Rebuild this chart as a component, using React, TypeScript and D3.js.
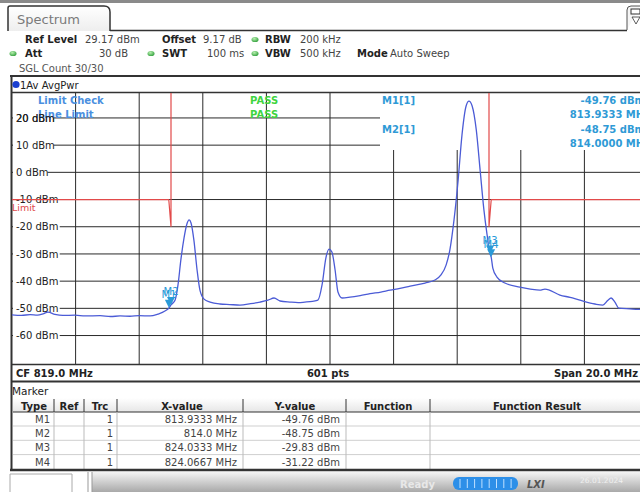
import React from "react";
import * as d3 from "d3";

// ---------- data ----------
const traceFreq = [809.0, 809.3, 809.57, 809.8, 810.0, 810.13, 810.35, 810.6, 810.98, 811.3, 811.77, 812.1, 812.4, 812.71, 813.0, 813.34, 813.59, 813.81, 813.94, 814.0, 814.13, 814.22, 814.31, 814.41, 814.5, 814.57, 814.63, 814.72, 814.82, 814.91, 815.04, 815.23, 815.54, 815.85, 816.17, 816.5, 816.8, 817.05, 817.24, 817.43, 817.74, 818.0, 818.21, 818.45, 818.62, 818.75, 818.87, 818.97, 819.06, 819.16, 819.25, 819.38, 819.63, 819.95, 820.26, 820.6, 820.89, 821.2, 821.52, 821.99, 822.3, 822.49, 822.65, 822.77, 822.9, 823.03, 823.15, 823.28, 823.37, 823.47, 823.6, 823.72, 823.84, 823.94, 824.03, 824.07, 824.12, 824.25, 824.5, 824.97, 825.3, 825.6, 825.76, 826.23, 826.55, 826.86, 827.33, 827.58, 827.74, 827.84, 827.96, 828.08, 828.43, 828.7, 829.0];
const traceLevel = [-52.4, -52.6, -52.3, -52.5, -51.9, -51.4, -52.2, -52.6, -52.5, -52.8, -52.7, -53.0, -52.8, -52.9, -52.7, -52.8, -52.1, -51.0, -49.8, -48.75, -46.9, -41.4, -32.2, -24.1, -19.0, -17.5, -18.6, -24.9, -35.9, -43.3, -46.6, -47.7, -48.4, -48.6, -48.8, -48.3, -47.7, -47.0, -46.2, -47.3, -47.7, -47.9, -47.7, -47.4, -47.0, -41.4, -31.5, -28.2, -29.3, -35.9, -44.0, -46.2, -45.9, -45.3, -44.6, -44.0, -43.3, -42.7, -41.8, -40.7, -39.6, -37.7, -34.1, -28.5, -17.5, -2.8, 13.7, 24.4, 26.2, 24.4, 15.6, 0.9, -13.8, -23.0, -29.83, -31.22, -35.2, -38.5, -40.7, -42.2, -42.9, -43.3, -42.9, -45.1, -46.0, -47.0, -48.4, -48.8, -47.0, -46.2, -47.7, -49.9, -50.2, -50.4, -50.2];

const yTicks = [20, 10, 0, -10, -20, -30, -40, -50, -60];
const xGridFreq = [811, 813, 815, 817, 819, 821, 823, 825, 827];

const limitFreq = [809, 813.93, 814.0, 814.0];
const limitLevel = [-10, -10, -20, 29.17];
const limitFreq2 = [824.0, 824.0, 824.07, 829];
const limitLevel2 = [29.17, -20, -10, -10];

const markerNames = ["M1", "M2", "M3", "M4"];
const markerFreq = [813.9333, 814.0, 824.0333, 824.0667];
const markerLevel = [-49.76, -48.75, -29.83, -31.22];
const markerXText = ["813.9333 MHz", "814.0 MHz", "824.0333 MHz", "824.0667 MHz"];
const markerYText = ["-49.76 dBm", "-48.75 dBm", "-29.83 dBm", "-31.22 dBm"];
const markerTrc = ["1", "1", "1", "1"];

const FONT = "DejaVu Sans, Verdana, sans-serif";

export default function App() {
  const x = d3.scaleLinear().domain([809, 829]).range([12, 648]);
  const y = d3.scaleLinear().domain([-70.83, 29.17]).range([365, 93]);

  const line = d3
    .line<number>()
    .x((_, i) => x(traceFreq[i]))
    .y((d) => y(d))
    .curve(d3.curveMonotoneX);
  const limLine = d3
    .line<number>()
    .x((_, i) => x(limitFreq[i]))
    .y((d) => y(d));
  const limLine2 = d3
    .line<number>()
    .x((_, i) => x(limitFreq2[i]))
    .y((d) => y(d));

  const colDiv = [54, 84, 117, 243, 346, 430];
  const rowY = [419, 433.3, 447.6, 462];

  return (
    <div style={{ position: "fixed", left: 0, top: 0, width: 640, height: 492, background: "#fff" }}>
      <svg width={640} height={492} style={{ display: "block", fontFamily: FONT }}>
        <defs>
          <linearGradient id="tabG" x1="0" y1="0" x2="0" y2="1">
            <stop offset="0" stopColor="#ffffff" />
            <stop offset="1" stopColor="#eeeeee" />
          </linearGradient>
          <linearGradient id="statusG" x1="0" y1="0" x2="0" y2="1">
            <stop offset="0" stopColor="#f4f4f4" />
            <stop offset="1" stopColor="#a9a9a9" />
          </linearGradient>
          <linearGradient id="hdrG" x1="0" y1="0" x2="0" y2="1">
            <stop offset="0" stopColor="#ffffff" />
            <stop offset="1" stopColor="#e6e6e6" />
          </linearGradient>
          <radialGradient id="greenDot" cx="0.4" cy="0.35" r="0.7">
            <stop offset="0" stopColor="#b8f0b0" />
            <stop offset="1" stopColor="#2f9e3a" />
          </radialGradient>
          <clipPath id="plotClip">
            <rect x={12} y={92} width={636} height={273} />
          </clipPath>
        </defs>

        {/* top strip */}
        <rect x={0} y={0} width={640} height={3} fill="#8a8a8a" />
        {/* tab */}
        <path d="M8,31 L8,8 Q8,6 10,6 L104,6 Q110,6 110,12 L110,31" fill="url(#tabG)" stroke="#333" strokeWidth={1.5} />
        <line x1={110} y1={30.5} x2={627} y2={30.5} stroke="#333" strokeWidth={1.5} />
        <path d="M627,30 L627,10 Q627,6 631,6 L640,6" fill="#f6f6f6" stroke="#555" strokeWidth={1} />
        <rect x={631} y={9} width={9} height={5} fill="#fff" stroke="#333" strokeWidth={1} />
        <path d="M632,17 L640,17 L636,24 Z" fill="none" stroke="#333" strokeWidth={0.8} />
        <text x={17} y={24} fontSize={13} fill="#7a7a7a">Spectrum</text>

        {/* info rows */}
        <g fontSize={10} fill="#222">
          <text x={25} y={43} fontWeight="bold">Ref Level</text>
          <text x={85} y={43} fill="#444">29.17 dBm</text>
          <text x={162} y={43} fontWeight="bold">Offset</text>
          <text x={203} y={43} fill="#444">9.17 dB</text>
          <ellipse cx={255} cy={39.5} rx={3.5} ry={2.6} fill="url(#greenDot)" />
          <text x={265} y={43} fontWeight="bold">RBW</text>
          <text x={300} y={43} fill="#444">200 kHz</text>

          <ellipse cx={13} cy={53.5} rx={3.5} ry={2.6} fill="url(#greenDot)" />
          <text x={25} y={57} fontWeight="bold">Att</text>
          <text x={128} y={57} fill="#444" textAnchor="end">30 dB</text>
          <ellipse cx={151} cy={53.5} rx={3.5} ry={2.6} fill="url(#greenDot)" />
          <text x={162} y={57} fontWeight="bold">SWT</text>
          <text x={207} y={57} fill="#444">100 ms</text>
          <ellipse cx={255} cy={53.5} rx={3.5} ry={2.6} fill="url(#greenDot)" />
          <text x={265} y={57} fontWeight="bold">VBW</text>
          <text x={300} y={57} fill="#444">500 kHz</text>
          <text x={357} y={57} fontWeight="bold">Mode</text>
          <text x={390} y={57} fill="#444">Auto Sweep</text>

          <text x={19} y={72} fill="#555">SGL Count 30/30</text>
        </g>

        {/* panel frame */}
        <line x1={10} y1={76} x2={640} y2={76} stroke="#333" strokeWidth={2} />
        <line x1={11.5} y1={76} x2={11.5} y2={471} stroke="#333" strokeWidth={2} />
        <circle cx={16} cy={84.5} r={3.6} fill="#1a3fd0" />
        <text x={20} y={88.5} fontSize={10} fill="#222">1Av AvgPwr</text>

        {/* grid */}
        {xGridFreq.map((f) => (
          <line key={"v" + f} x1={x(f)} y1={92} x2={x(f)} y2={364} stroke="#2a2a2a" strokeWidth={1} />
        ))}
        {yTicks.map((t) => (
          <line key={"h" + t} x1={12} y1={y(t)} x2={648} y2={y(t)} stroke="#2a2a2a" strokeWidth={1} />
        ))}
        {/* marker info box */}
        <rect x={380} y={93} width={260} height={57} fill="#fff" />
        <line x1={12} y1={92.5} x2={640} y2={92.5} stroke="#333" strokeWidth={1.5} />

        {/* y tick labels */}
        {yTicks.map((t) => {
          const label = `${t} dBm`;
          const w = label.length * 6.1 + 1;
          return (
            <g key={"l" + t}>
              <rect x={13} y={y(t) - 6} width={w + 3} height={12} fill="#fff" />
              <text x={16} y={y(t) + 3.6} fontSize={10} fill="#222">{label}</text>
            </g>
          );
        })}

        {/* limit check texts */}
        <text x={38} y={104} fontSize={10} fontWeight="bold" fill="#4a8fe0">Limit Check</text>
        <text x={38} y={118} fontSize={10} fontWeight="bold" fill="#4a8fe0">Line Limit</text>
        <text x={16} y={y(20) + 3.6} fontSize={10} fill="#222">20 dBm</text>
        <text x={250} y={104} fontSize={10} fontWeight="bold" fill="#3fd43f">PASS</text>
        <text x={250} y={118} fontSize={10} fontWeight="bold" fill="#3fd43f">PASS</text>

        {/* marker info */}
        <g fontSize={10} fontWeight="bold" fill="#2f9ad6">
          <text x={382} y={104}>M1[1]</text>
          <text x={382} y={133}>M2[1]</text>
          <text x={645} y={104} textAnchor="end">{markerYText[0]}</text>
          <text x={650} y={118} textAnchor="end">813.9333 MHz</text>
          <text x={645} y={133} textAnchor="end">{markerYText[1]}</text>
          <text x={650} y={147} textAnchor="end">814.0000 MHz</text>
        </g>

        {/* limit lines and trace */}
        <g clipPath="url(#plotClip)">
          <path d={limLine(limitLevel) || ""} fill="none" stroke="#e24a4a" strokeWidth={1.2} />
          <path d={limLine2(limitLevel2) || ""} fill="none" stroke="#e24a4a" strokeWidth={1.2} />
          <path d={line(traceLevel) || ""} fill="none" stroke="#4b5bd6" strokeWidth={1.3} />
        </g>
        <text x={12} y={211} fontSize={9.5} fill="#e04a4a">Limit</text>

        {/* markers */}
        {markerNames.map((m, i) => {
          const mx = x(markerFreq[i]);
          const my = y(markerLevel[i]);
          return (
            <g key={m}>
              <path d={`M${mx - 4},${my - 8} L${mx + 4},${my - 8} L${mx},${my} Z`} fill="#2a9ad8" />
              <text x={mx} y={my - 9.5} fontSize={10} fill="#2a9ad8" textAnchor="middle">{m}</text>
            </g>
          );
        })}

        {/* footer */}
        <line x1={12} y1={364.5} x2={640} y2={364.5} stroke="#333" strokeWidth={1.5} />
        <line x1={12} y1={381.5} x2={640} y2={381.5} stroke="#333" strokeWidth={2} />
        <g fontSize={10} fontWeight="bold" fill="#222">
          <text x={16} y={377}>CF 819.0 MHz</text>
          <text x={328} y={377} textAnchor="middle">601 pts</text>
          <text x={638} y={377} textAnchor="end">Span 20.0 MHz</text>
        </g>

        {/* marker table */}
        <text x={12} y={395} fontSize={10.5} fill="#222">Marker</text>
        <rect x={13} y={398} width={627} height={14} fill="url(#hdrG)" />
        <line x1={13} y1={412} x2={640} y2={412} stroke="#333" strokeWidth={1.2} />
        {[426, 440.3, 454.6].map((ly) => (
          <line key={"r" + ly} x1={13} y1={ly} x2={640} y2={ly} stroke="#cfcfcf" strokeWidth={1} />
        ))}
        {colDiv.map((cx) => (
          <g key={"c" + cx}>
            <line x1={cx} y1={399} x2={cx} y2={412} stroke="#333" strokeWidth={1} />
            <line x1={cx} y1={412} x2={cx} y2={469} stroke="#bbb" strokeWidth={1} />
          </g>
        ))}
        <g fontSize={10} fontWeight="bold" fill="#222" textAnchor="middle">
          <text x={34} y={409.5}>Type</text>
          <text x={69} y={409.5}>Ref</text>
          <text x={100} y={409.5}>Trc</text>
          <text x={182} y={409.5}>X-value</text>
          <text x={295} y={409.5}>Y-value</text>
          <text x={388} y={409.5}>Function</text>
          <text x={537} y={409.5}>Function Result</text>
        </g>
        {markerNames.map((m, i) => (
          <g key={"t" + m} fontSize={10} fill="#444" textAnchor="end">
            <text x={50} y={rowY[i] + 3.6}>{m}</text>
            <text x={113} y={rowY[i] + 3.6}>{markerTrc[i]}</text>
            <text x={237} y={rowY[i] + 3.6}>{markerXText[i]}</text>
            <text x={340} y={rowY[i] + 3.6}>{markerYText[i]}</text>
          </g>
        ))}
        <line x1={10} y1={470} x2={640} y2={470} stroke="#333" strokeWidth={2.5} />

        {/* bottom status */}
        <rect x={92} y={472} width={548} height={20} fill="url(#statusG)" />
        <path d="M10,492 L10,474 L72,474 L72,492" fill="#fff" stroke="#aaa" strokeWidth={1} />
        <line x1={88} y1={472} x2={88} y2={492} stroke="#999" strokeWidth={1} />
        <line x1={92} y1={472} x2={92} y2={492} stroke="#999" strokeWidth={1} />
        <text x={400} y={488} fontSize={10} fill="#e8e8e8" fontWeight="bold">Ready</text>
        <rect x={453} y={477} width={65} height={13} rx={6} fill="#2d8fe8" />
        {[0, 1, 2, 3, 4, 5, 6, 7].map((k) => (
          <line key={"pb" + k} x1={460 + k * 7.3} y1={479} x2={460 + k * 7.3} y2={488} stroke="#bfe0ff" strokeWidth={1} />
        ))}
        <text x={527} y={488} fontSize={10} fontStyle="italic" fontWeight="bold" fill="#555">LXI</text>
        <text x={580} y={483} fontSize={7.5} fill="#f0f0f0">26.01.2024</text>
      </svg>
    </div>
  );
}
